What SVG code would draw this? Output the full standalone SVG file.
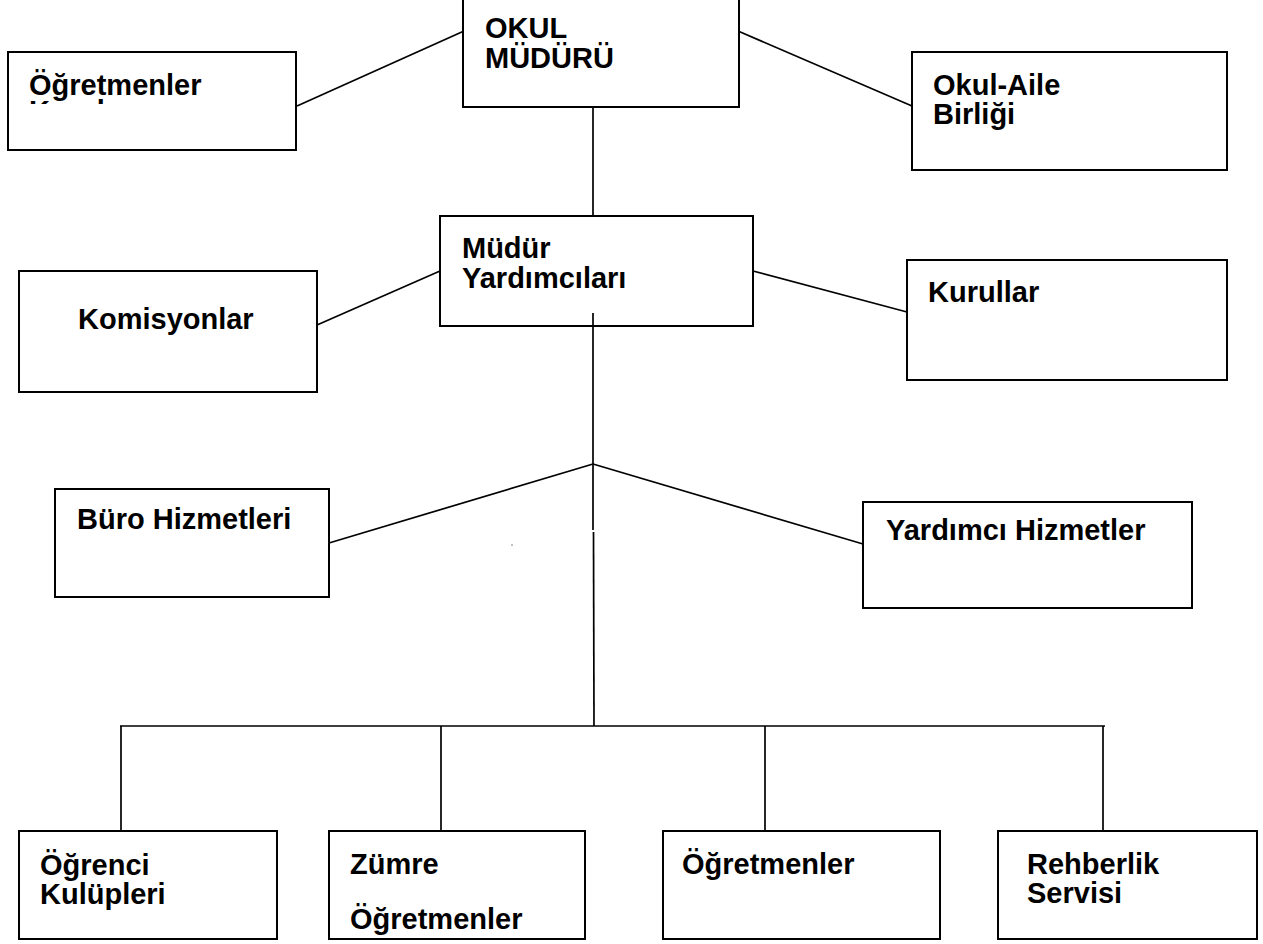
<svg xmlns="http://www.w3.org/2000/svg" width="1263" height="944" viewBox="0 0 1263 944">
<style>
.box{fill:#fff;stroke:#000;stroke-width:2}
.lbl{font-family:"Liberation Sans",Arial,sans-serif;font-weight:bold;font-size:29px;fill:#000}
.con{stroke:#000;stroke-width:1.7;fill:none}
</style>
<defs>
<clipPath id="clipOK"><rect x="9" y="53" width="286" height="51"/></clipPath>
<clipPath id="clipZO"><rect x="330" y="832" width="254" height="106"/></clipPath>
</defs>
<rect width="1263" height="944" fill="#fff"/>
<g id="connectors">
<line class="con" x1="297" y1="106" x2="464" y2="31"/>
<line class="con" x1="738" y1="31" x2="912" y2="106"/>
<line class="con" x1="593" y1="107" x2="593" y2="216"/>
<line class="con" x1="317" y1="325" x2="440" y2="271"/>
<line class="con" x1="753" y1="271" x2="907" y2="312"/>
<line class="con" x1="593" y1="313" x2="593" y2="530"/>
<line class="con" x1="593.5" y1="532" x2="594" y2="726"/>
<line class="con" x1="329" y1="543" x2="593" y2="464"/>
<line class="con" x1="593" y1="464" x2="863" y2="544"/>
<line class="con" x1="120" y1="726" x2="1105" y2="726"/>
<line class="con" x1="121" y1="726" x2="121" y2="831"/>
<line class="con" x1="441" y1="726" x2="441" y2="831"/>
<line class="con" x1="765" y1="726" x2="765" y2="831"/>
<line class="con" x1="1103" y1="726" x2="1103" y2="831"/>
<rect x="511.5" y="544.5" width="1" height="1" fill="#000"/>
</g>
<g id="okul-muduru">
<rect class="box" x="463" y="-2" width="276" height="109"/>
<text class="lbl" x="485" y="38">OKUL</text>
<text class="lbl" x="485" y="68">MÜDÜRÜ</text>
</g>
<g id="ogretmenler-kurulu">
<rect class="box" x="8" y="52" width="288" height="98"/>
<text class="lbl" x="29" y="95">Öğretmenler</text>
<text class="lbl" x="29" y="121" clip-path="url(#clipOK)">Kurulu</text>
</g>
<g id="okul-aile-birligi">
<rect class="box" x="912" y="52" width="315" height="118"/>
<text class="lbl" x="933" y="95">Okul-Aile</text>
<text class="lbl" x="933" y="124">Birliği</text>
</g>
<g id="mudur-yardimcilari">
<rect class="box" x="440" y="216" width="313" height="110"/>
<text class="lbl" x="462" y="258">Müdür</text>
<text class="lbl" x="462" y="288">Yardımcıları</text>
<line class="con" x1="593" y1="313" x2="593" y2="326"/>
</g>
<g id="komisyonlar">
<rect class="box" x="19" y="271" width="298" height="121"/>
<text class="lbl" x="78" y="329">Komisyonlar</text>
</g>
<g id="kurullar">
<rect class="box" x="907" y="260" width="320" height="120"/>
<text class="lbl" x="928" y="302">Kurullar</text>
</g>
<g id="buro-hizmetleri">
<rect class="box" x="55" y="489" width="274" height="108"/>
<text class="lbl" x="77" y="529">Büro Hizmetleri</text>
</g>
<g id="yardimci-hizmetler">
<rect class="box" x="863" y="502" width="329" height="106"/>
<text class="lbl" x="886" y="540">Yardımcı Hizmetler</text>
</g>
<g id="ogrenci-kulupleri">
<rect class="box" x="19" y="831" width="258" height="108"/>
<text class="lbl" x="40" y="875">Öğrenci</text>
<text class="lbl" x="40" y="904">Kulüpleri</text>
</g>
<g id="zumre-ogretmenler">
<rect class="box" x="329" y="831" width="256" height="108"/>
<text class="lbl" x="350" y="874">Zümre</text>
<text class="lbl" x="350" y="929" clip-path="url(#clipZO)">Öğretmenler</text>
</g>
<g id="ogretmenler">
<rect class="box" x="663" y="831" width="277" height="108"/>
<text class="lbl" x="682" y="874">Öğretmenler</text>
</g>
<g id="rehberlik-servisi">
<rect class="box" x="998" y="831" width="259" height="108"/>
<text class="lbl" x="1027" y="874">Rehberlik</text>
<text class="lbl" x="1027" y="903">Servisi</text>
</g>
</svg>
